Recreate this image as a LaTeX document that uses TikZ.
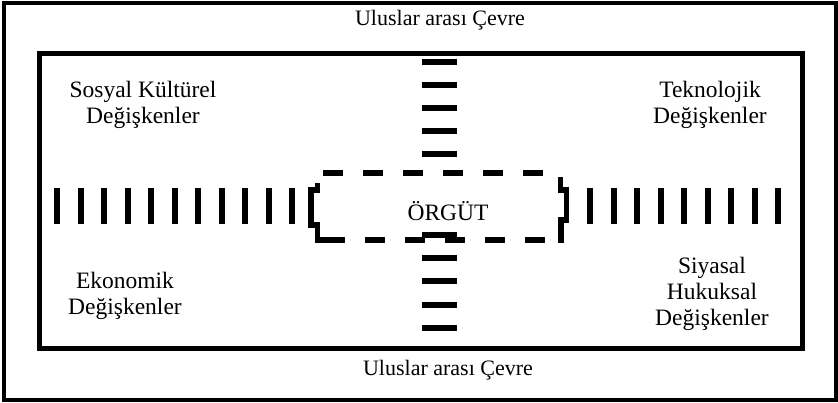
\documentclass[tikz,border=0pt]{standalone}
\usepackage{fontspec}
\setmainfont{Liberation Serif}
\begin{document}
\begin{tikzpicture}[x=1pt,y=-1pt,
  lbl/.style={font=\fontsize{23.5}{26}\selectfont, align=center, inner sep=0pt},
  envlbl/.style={font=\fontsize{22}{26}\selectfont, align=center, inner sep=0pt},
  frame/.style={draw, inner sep=0pt},
  vbar/.style={fill=black, minimum width=6pt, minimum height=36pt, inner sep=0pt, draw=none},
  hbar/.style={fill=black, minimum width=35pt, minimum height=6pt, inner sep=0pt, draw=none},
  orgdash/.style={line width=6pt, dash pattern=on 20pt off 20pt},
  orgside/.style={line width=5.5pt, line join=miter},
]
\useasboundingbox (0,0) rectangle (838,402);
% outer frame
\node (outer) [frame, line width=4pt, minimum width=831.5pt, minimum height=396.5pt] at (419.75,201.25) {};
% inner frame
\node (inner) [frame, line width=5pt, minimum width=763pt, minimum height=294.5pt] at (421,200.75) {};
% labels
\node (top) [envlbl] at (440,20) {Uluslar arası Çevre};
\node (bottom) [envlbl] at (448,370) {Uluslar arası Çevre};
\node (sk) [lbl] at (143,105) {Sosyal Kültürel\\Değişkenler};
\node (tk) [lbl] at (710,105) {Teknolojik\\Değişkenler};
\node (ek) [lbl] at (125,296) {Ekonomik\\Değişkenler};
\node (sh) [lbl] at (712,294) {Siyasal\\Hukuksal\\Değişkenler};
\node (org) [lbl] at (448,211) {ÖRGÜT};
% vertical bars (horizontal dashed axis)
\foreach \i in {0,...,10} \node (lb\i) [vbar] at ({57+23.5*\i},206) {};
\foreach \i in {0,...,8} \node (rb\i) [vbar] at ({590+23.5*\i},206) {};
% horizontal bars (vertical dashed axis)
\foreach \y [count=\i] in {62,85,108,131,154} \node (tb\i) [hbar] at (439.5,\y) {};
\foreach \y [count=\i] in {235,258,281,304.5,327.5} \node (bb\i) [hbar] at (439.5,\y) {};
% ORGUT dashed box
\coordinate (tl) at (323,172.5);
\coordinate (tr) at (550,172.5);
\coordinate (bl) at (323,240);
\coordinate (br) at (545,240);
\draw[orgdash] (tl) -- (tr);
\draw[orgdash, dash phase=-2pt] (bl) -- (br);
\draw[orgside] (317.5,183) -- (317.5,190) -- (311,190) -- (311,225) -- (317.5,225) -- (317.5,240) -- (342,240);
\draw[orgside] (560.5,177) -- (560.5,190) -- (566.5,190) -- (566.5,220) -- (561,220) -- (561,243);
\end{tikzpicture}
\end{document}
